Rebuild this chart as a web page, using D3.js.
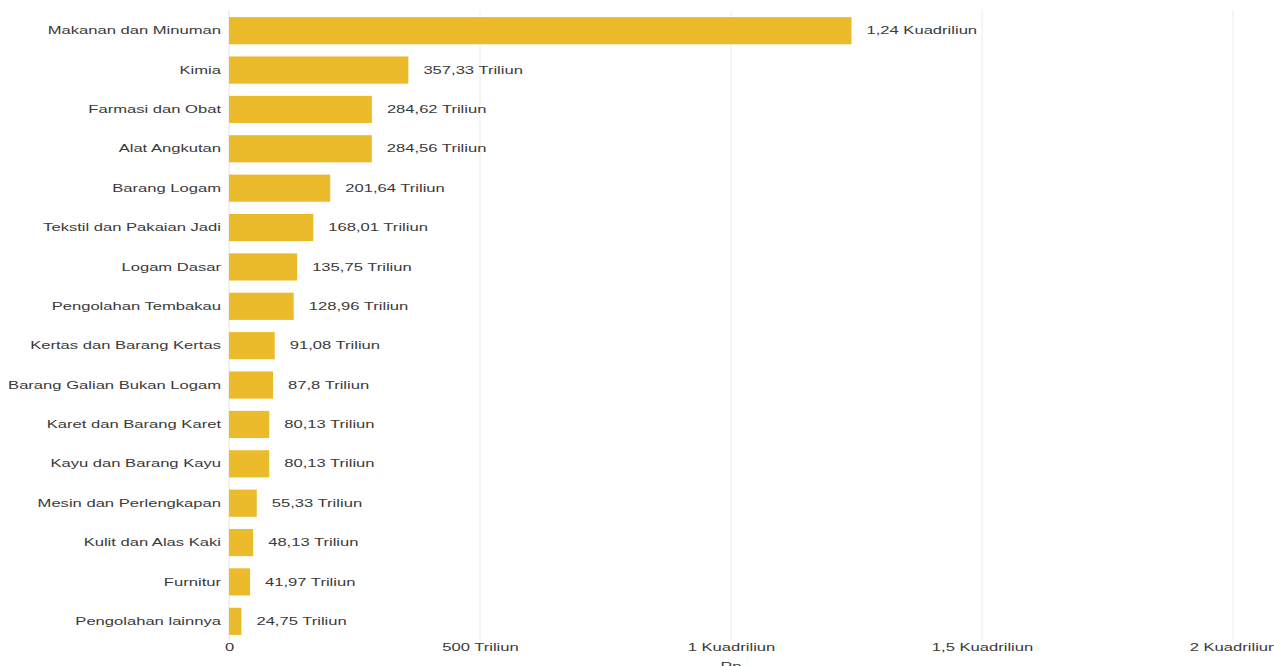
<!DOCTYPE html>
<html>
<head>
<meta charset="utf-8">
<script src="https://cdn.jsdelivr.net/npm/d3@7"></script>
<style>
  body { margin: 0; background: #fff; }
  svg { display: block; font-family: "Liberation Sans", Arial, sans-serif; }
</style>
</head>
<body>
<div id="chart"></div>
<script>
const categories = [
    "Makanan dan Minuman", "Kimia", "Farmasi dan Obat", "Alat Angkutan",
    "Barang Logam", "Tekstil dan Pakaian Jadi", "Logam Dasar",
    "Pengolahan Tembakau", "Kertas dan Barang Kertas",
    "Barang Galian Bukan Logam", "Karet dan Barang Karet",
    "Kayu dan Barang Kayu", "Mesin dan Perlengkapan", "Kulit dan Alas Kaki",
    "Furnitur", "Pengolahan lainnya"
];
// values in Triliun Rupiah
const values = [1240, 357.33, 284.62, 284.56, 201.64, 168.01, 135.75, 128.96,
    91.08, 87.8, 80.13, 80.13, 55.33, 48.13, 41.97, 24.75];
const tickValues = [0, 500, 1000, 1500, 2000];
const tickLabels = ["0", "500 Triliun", "1 Kuadriliun", "1,5 Kuadriliun", "2 Kuadriliun"];

const W = 1274, H = 666;
const barColor = "#ebbb2b";
const textColor = "#3a3a3a";
const fontSize = 10.5;
const stretch = 1.58; // reference text is drawn wide

const fmtValue = (v) => v >= 1000
    ? String(v / 1000).replace(".", ",") + " Kuadriliun"
    : String(v).replace(".", ",") + " Triliun";

const x = d3.scaleLinear().domain([0, 2000]).range([229, 1233]);
const y = d3.scaleBand().domain(categories).range([11, 641]).paddingInner(0.31).paddingOuter(0.155);

const svg = d3.select("#chart").append("svg")
    .attr("width", W).attr("height", H);

// grid
svg.append("g")
    .selectAll("line")
    .data(tickValues)
    .join("line")
    .attr("x1", (d) => x(d)).attr("x2", (d) => x(d))
    .attr("y1", 10).attr("y2", 641)
    .attr("stroke", (d) => d === 0 ? "#e4e4e4" : "#ececec")
    .attr("stroke-width", 1);

// x axis labels
const axis = svg.append("g")
    .attr("transform", `translate(0,641)`)
    .call(d3.axisBottom(x).tickValues(tickValues).tickFormat((d, i) => tickLabels[i]).tickSize(0).tickPadding(3));
axis.select(".domain").remove();
axis.selectAll("text")
    .attr("fill", textColor)
    .attr("font-size", fontSize)
    .attr("transform", `scale(${stretch},1)`);

svg.append("text")
    .attr("transform", `translate(${x(1000)},670) scale(${stretch},1)`)
    .attr("text-anchor", "middle")
    .attr("fill", textColor)
    .attr("font-size", fontSize)
    .text("Rp");

// bars
svg.append("g")
    .selectAll("rect")
    .data(values)
    .join("rect")
    .attr("x", x(0))
    .attr("y", (d, i) => y(categories[i]))
    .attr("width", (d) => x(d) - x(0))
    .attr("height", y.bandwidth())
    .attr("fill", barColor);

// category labels
svg.append("g")
    .selectAll("text")
    .data(categories)
    .join("text")
    .attr("transform", (d) => `translate(221,${y(d) + y.bandwidth() / 2}) scale(${stretch},1)`)
    .attr("dy", "0.35em")
    .attr("text-anchor", "end")
    .attr("fill", textColor)
    .attr("font-size", fontSize)
    .text((d) => d);

// value labels
svg.append("g")
    .selectAll("text")
    .data(values)
    .join("text")
    .attr("transform", (d, i) => `translate(${x(d) + 15},${y(categories[i]) + y.bandwidth() / 2}) scale(${stretch},1)`)
    .attr("dy", "0.35em")
    .attr("fill", textColor)
    .attr("font-size", fontSize)
    .text((d) => fmtValue(d));
</script>
</body>
</html>
